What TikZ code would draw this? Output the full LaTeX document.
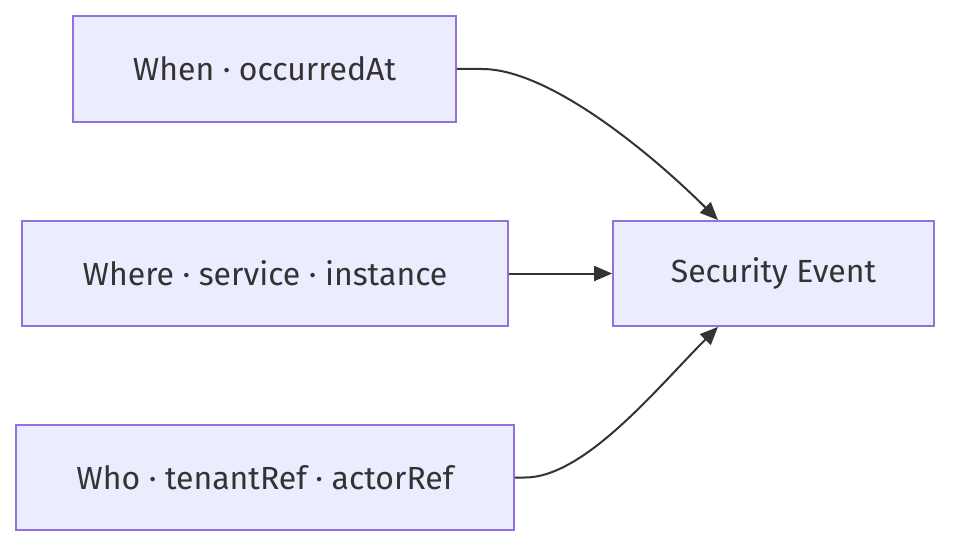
\documentclass[tikz,border=0pt]{standalone}
\usepackage{fontspec}
\setmainfont{Fira Sans}
\usetikzlibrary{arrows.meta}
\definecolor{boxfill}{HTML}{ECECFF}
\definecolor{boxline}{HTML}{9370DB}
\definecolor{ink}{HTML}{333333}
\tikzset{
  box/.style={draw=boxline, fill=boxfill, line width=1.8pt, text=ink, font=\fontsize{32}{38}\selectfont, inner sep=0pt},
  link/.style={draw=ink, line width=2pt, -{Triangle[length=18pt,width=15pt]}}
}
\begin{document}
\begin{tikzpicture}[x=1pt,y=-1pt]
\useasboundingbox (0,0) rectangle (966,556);
\node[box, minimum width=383pt, minimum height=106pt] (when) at (264.5,69) {When · occurredAt};
\node[box, minimum width=486pt, minimum height=105pt] (where) at (265,273.5) {Where · service · instance};
\node[box, minimum width=498pt, minimum height=105pt] (who) at (265,477.5) {Who · tenantRef · actorRef};
\node[box, minimum width=321pt, minimum height=105pt] (sec) at (773.5,273.5) {Security Event};
\coordinate (secT) at ([xshift=-55.5pt]sec.north);
\coordinate (secB) at ([xshift=-55.5pt]sec.south);
\draw[link] (when.east) -- ++(25,0) .. controls +(70,0) and +(-60,-60) .. (secT);
\draw[link] (where.east) -- (sec.west);
\draw[link] (who.east) -- ++(10,0) .. controls +(60,0) and +(-60,60) .. (secB);
\end{tikzpicture}
\end{document}
